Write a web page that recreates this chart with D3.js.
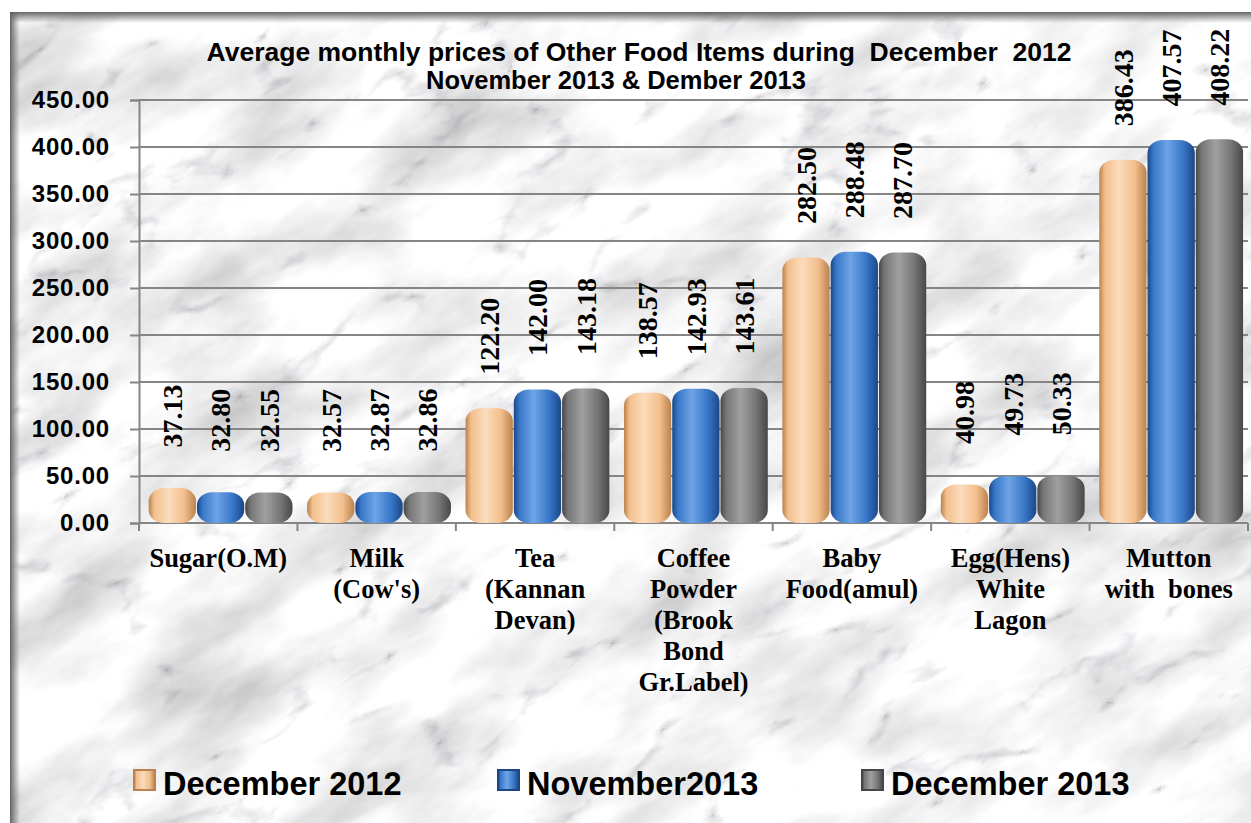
<!DOCTYPE html>
<html>
<head>
<meta charset="utf-8">
<script src="https://cdn.jsdelivr.net/npm/d3@7"></script>
<style>
  html, body { margin: 0; padding: 0; background: #fff; }
  svg { display: block; }
</style>
</head>
<body>
<svg id="chart" width="1251" height="823"></svg>
<script>
// chart values
const categories = [
  ["Sugar(O.M)"],
  ["Milk", "(Cow's)"],
  ["Tea", "(Kannan", "Devan)"],
  ["Coffee", "Powder", "(Brook", "Bond", "Gr.Label)"],
  ["Baby", "Food(amul)"],
  ["Egg(Hens)", "White", "Lagon"],
  ["Mutton", "with  bones"]
];
const seriesNames = ["December 2012", "November2013", "December 2013"];
const dec2012 = [37.13, 32.57, 122.20, 138.57, 282.50, 40.98, 386.43];
const nov2013 = [32.80, 32.87, 142.00, 142.93, 288.48, 49.73, 407.57];
const dec2013 = [32.55, 32.86, 143.18, 143.61, 287.70, 50.33, 408.22];
const yTicks = [0, 50, 100, 150, 200, 250, 300, 350, 400, 450];
const titleLines = ["Average monthly prices of Other Food Items during  December  2012",
                    "November 2013 & Dember 2013"];

const series = [dec2012, nov2013, dec2013];
// base, dark edge, highlight
const colors = [
  ["#f3bf8c", "#b9824f", "#fbdcbc"],
  ["#3877c8", "#1b4787", "#6fa4e6"],
  ["#767676", "#474747", "#a0a0a0"]
];

const svg = d3.select("#chart");
const W = 1251, H = 823;
const defs = svg.append("defs");

// marble texture: cloudy base times thin veins
const f = defs.append("filter").attr("id", "marble")
  .attr("x", 0).attr("y", 0).attr("width", "100%").attr("height", "100%");
f.append("feTurbulence").attr("type", "fractalNoise")
  .attr("baseFrequency", "0.006 0.014").attr("numOctaves", 5).attr("seed", 2).attr("result", "n1");
f.append("feColorMatrix").attr("in", "n1").attr("type", "matrix")
  .attr("values", "0.9 0 0 0 0.47  0.9 0 0 0 0.47  0.9 0 0 0 0.48  0 0 0 0 1").attr("result", "c1");
f.append("feTurbulence").attr("type", "turbulence")
  .attr("baseFrequency", "0.005 0.010").attr("numOctaves", 5).attr("seed", 7).attr("result", "n2");
f.append("feColorMatrix").attr("in", "n2").attr("type", "matrix")
  .attr("values", "2.3 0 0 0 0.66  2.3 0 0 0 0.66  2.3 0 0 0 0.67  0 0 0 0 1").attr("result", "c2");
f.append("feBlend").attr("in", "c1").attr("in2", "c2").attr("mode", "multiply");

const bg = svg.append("g");
bg.append("rect").attr("x", 10).attr("y", 12).attr("width", W - 10).attr("height", H - 12)
  .attr("fill", "#e4e4e4");
bg.append("g").attr("transform", "translate(600,420) rotate(-30) translate(-900,-700)")
  .append("rect").attr("width", 1800).attr("height", 1400)
  .attr("filter", "url(#marble)");
// white margin outside the frame
bg.append("rect").attr("x", 0).attr("y", 0).attr("width", W).attr("height", 12).attr("fill", "#fff");
bg.append("rect").attr("x", 0).attr("y", 0).attr("width", 10).attr("height", H).attr("fill", "#fff");
// bevel of the frame
const bevL = defs.append("linearGradient").attr("id", "bevL");
bevL.append("stop").attr("offset", 0).attr("stop-color", "#5e5e5e").attr("stop-opacity", 0.95);
bevL.append("stop").attr("offset", 1).attr("stop-color", "#6e6e6e").attr("stop-opacity", 0);
const bevT = defs.append("linearGradient").attr("id", "bevT").attr("x2", 0).attr("y2", 1);
bevT.append("stop").attr("offset", 0).attr("stop-color", "#5e5e5e").attr("stop-opacity", 0.95);
bevT.append("stop").attr("offset", 1).attr("stop-color", "#6e6e6e").attr("stop-opacity", 0);
bg.append("rect").attr("x", 10).attr("y", 12).attr("width", 10).attr("height", H - 12).attr("fill", "url(#bevL)");
bg.append("rect").attr("x", 10).attr("y", 12).attr("width", W - 10).attr("height", 11).attr("fill", "url(#bevT)");

// scales
const plot = { left: 139, right: 1248, top: 100, bottom: 523 };
const x0 = d3.scaleBand().domain(d3.range(categories.length))
  .range([plot.left, plot.right]).paddingInner(0).paddingOuter(0);
const x1 = d3.scaleBand().domain(d3.range(series.length))
  .range([x0.bandwidth() * 0.055, x0.bandwidth() * 0.975]).padding(0.02);
const y = d3.scaleLinear().domain([0, 450]).range([plot.bottom, plot.top]);

// gridlines
svg.append("g").selectAll("line").data(yTicks).join("line")
  .attr("x1", plot.left).attr("x2", plot.right)
  .attr("y1", d => y(d)).attr("y2", d => y(d))
  .attr("stroke", "#858585").attr("stroke-width", 2);

// y axis
const yAxis = svg.append("g").attr("transform", `translate(${plot.left},0)`)
  .call(d3.axisLeft(y).tickValues(yTicks).tickFormat(d3.format(".2f")).tickSize(9).tickPadding(20));
yAxis.select(".domain").attr("stroke", "#858585").attr("stroke-width", 2);
yAxis.selectAll(".tick line").attr("stroke", "#858585").attr("stroke-width", 2);
yAxis.selectAll("text").attr("font-family", "Liberation Sans, Arial, sans-serif")
  .attr("font-weight", "bold").attr("font-size", 24).attr("letter-spacing", 0.8)
  .attr("fill", "#000");

// x axis
const xAxis = svg.append("g").attr("transform", `translate(0,${plot.bottom})`);
xAxis.append("line").attr("x1", plot.left).attr("x2", plot.right)
  .attr("stroke", "#858585").attr("stroke-width", 2);
xAxis.selectAll("line.tk").data(d3.range(categories.length + 1)).join("line")
  .attr("class", "tk")
  .attr("x1", d => plot.left + d * x0.bandwidth()).attr("x2", d => plot.left + d * x0.bandwidth())
  .attr("y1", 0).attr("y2", 8).attr("stroke", "#858585").attr("stroke-width", 2);

// category labels
svg.append("g").selectAll("text").data(categories).join("text")
  .attr("x", (d, i) => x0(i) + x0.bandwidth() / 2)
  .attr("y", 567)
  .attr("text-anchor", "middle")
  .attr("font-family", "Liberation Serif, Times New Roman, serif")
  .attr("font-weight", "bold").attr("font-size", 26.5).attr("fill", "#000")
  .selectAll("tspan").data(d => d).join("tspan")
  .attr("x", function () { return this.parentNode.getAttribute("x"); })
  .attr("dy", (d, i) => i === 0 ? 0 : 31)
  .attr("xml:space", "preserve")
  .text(d => d);

// bar gradients
colors.forEach((c, s) => {
  const g = defs.append("linearGradient").attr("id", "bar" + s);
  g.append("stop").attr("offset", 0).attr("stop-color", c[1]);
  g.append("stop").attr("offset", 0.12).attr("stop-color", c[0]);
  g.append("stop").attr("offset", 0.42).attr("stop-color", c[2]);
  g.append("stop").attr("offset", 0.75).attr("stop-color", c[0]);
  g.append("stop").attr("offset", 1).attr("stop-color", c[1]);
});

const barData = [];
categories.forEach((c, i) => series.forEach((arr, s) => barData.push({ i, s, v: arr[i] })));

const bw = x1.bandwidth();
const bars = svg.append("g").selectAll("g").data(barData).join("g")
  .attr("transform", d => `translate(${x0(d.i) + x1(d.s)},0)`);
bars.append("rect")
  .attr("y", d => y(d.v))
  .attr("width", bw)
  .attr("height", d => y(0) - y(d.v))
  .attr("rx", bw * 0.32)
  .attr("ry", d => Math.min(13, (y(0) - y(d.v)) / 2))
  .attr("fill", d => `url(#bar${d.s})`);

// value labels
svg.append("g").selectAll("text").data(barData).join("text")
  .attr("transform", d => `translate(${x0(d.i) + x1(d.s) + bw / 2},${y(d.v) - 72}) rotate(-90)`)
  .attr("text-anchor", "middle").attr("dy", "0.35em")
  .attr("font-family", "Liberation Serif, Times New Roman, serif")
  .attr("font-weight", "bold").attr("font-size", 28).attr("fill", "#000")
  .text(d => d.v.toFixed(2));

// title
svg.append("g").selectAll("text").data(titleLines).join("text")
  .attr("x", (d, i) => i === 0 ? 639 : 616)
  .attr("y", (d, i) => 61 + i * 28)
  .attr("text-anchor", "middle")
  .attr("xml:space", "preserve")
  .attr("font-family", "Liberation Sans, Arial, sans-serif")
  .attr("font-weight", "bold").attr("font-size", (d, i) => i === 0 ? 26.5 : 25.5).attr("fill", "#000")
  .text(d => d);

// legend
const lx = d3.scaleLinear().domain([0, 1]).range([134, 498]);
const leg = svg.append("g").selectAll("g").data(seriesNames).join("g")
  .attr("transform", (d, i) => `translate(${lx(i)},770)`);
leg.append("rect").attr("width", 21).attr("height", 20)
  .attr("fill", (d, i) => `url(#bar${i})`).attr("stroke", (d, i) => colors[i][1]).attr("stroke-width", 2);
leg.append("text").attr("x", 29).attr("y", 25)
  .attr("font-family", "Liberation Sans, Arial, sans-serif")
  .attr("font-weight", "bold").attr("font-size", 32.5).attr("fill", "#000")
  .text(d => d);
</script>
</body>
</html>
